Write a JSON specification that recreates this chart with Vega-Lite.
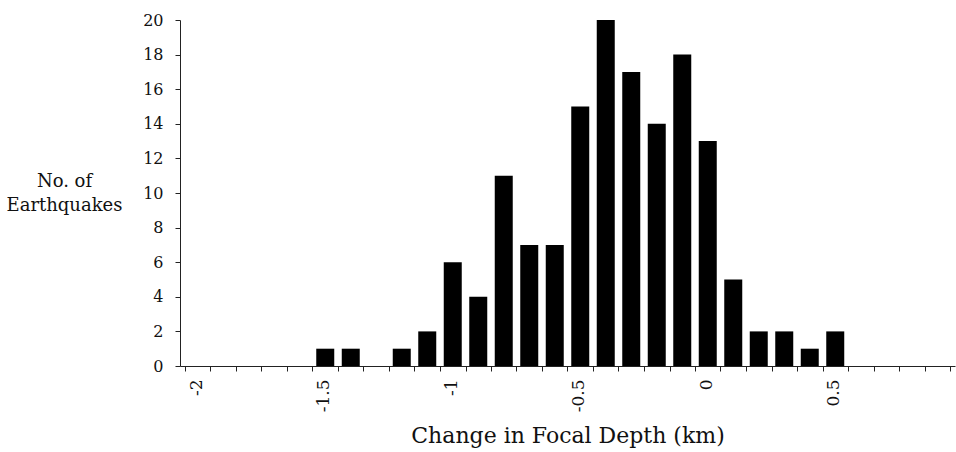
{
  "$schema": "https://vega.github.io/schema/vega-lite/v6.json",
  "autosize": "none",
  "width": 775,
  "height": 346,
  "padding": {"left": 180, "top": 20, "right": 1, "bottom": 86},
  "background": "white",
  "config": {
    "view": {"stroke": null},
    "font": "DejaVu Serif",
    "axis": {"grid": false, "domainColor": "#222", "tickColor": "#222", "labelColor": "#111", "titleColor": "#111", "labelFont": "DejaVu Serif", "titleFont": "DejaVu Serif", "titleFontWeight": "normal"}
  },
  "data": {
    "values": [
      {"depth": -2.0, "count": 0}, {"depth": -1.9, "count": 0}, {"depth": -1.8, "count": 0},
      {"depth": -1.7, "count": 0}, {"depth": -1.6, "count": 0}, {"depth": -1.5, "count": 1},
      {"depth": -1.4, "count": 1}, {"depth": -1.3, "count": 0}, {"depth": -1.2, "count": 1},
      {"depth": -1.1, "count": 2}, {"depth": -1.0, "count": 6}, {"depth": -0.9, "count": 4},
      {"depth": -0.8, "count": 11}, {"depth": -0.7, "count": 7}, {"depth": -0.6, "count": 7},
      {"depth": -0.5, "count": 15}, {"depth": -0.4, "count": 20}, {"depth": -0.3, "count": 17},
      {"depth": -0.2, "count": 14}, {"depth": -0.1, "count": 18}, {"depth": 0.0, "count": 13},
      {"depth": 0.1, "count": 5}, {"depth": 0.2, "count": 2}, {"depth": 0.3, "count": 2},
      {"depth": 0.4, "count": 1}, {"depth": 0.5, "count": 2}, {"depth": 0.6, "count": 0},
      {"depth": 0.7, "count": 0}, {"depth": 0.8, "count": 0}, {"depth": 0.9, "count": 0}
    ]
  },
  "mark": {"type": "bar", "color": "black", "width": 18},
  "encoding": {
    "x": {
      "field": "depth",
      "type": "quantitative",
      "scale": {"domain": [-2.05, 0.95], "nice": false, "zero": false},
      "axis": {
        "title": "Change in Focal Depth (km)",
        "titleFontSize": 22,
        "titlePadding": 14,
        "values": [-2.05, -1.95, -1.85, -1.75, -1.65, -1.55, -1.45, -1.35, -1.25, -1.15, -1.05, -0.95, -0.85, -0.75, -0.65, -0.55, -0.45, -0.35, -0.25, -0.15, -0.05, 0.05, 0.15, 0.25, 0.35, 0.45, 0.55, 0.65, 0.75, 0.85, 0.95],
        "labelExpr": "(abs((datum.value + 0.05) * 2 - round((datum.value + 0.05) * 2)) < 0.01 && datum.value < 0.9) ? toString(round((datum.value + 0.05) * 10) / 10) : ''",
        "labelAngle": -90,
        "labelOffset": 11,
        "labelFontSize": 17,
        "labelPadding": 8,
        "labelOverlap": false,
        "labelFlush": false,
        "labelBound": false,
        "tickSize": 5
      }
    },
    "y": {
      "field": "count",
      "type": "quantitative",
      "scale": {"domain": [0, 20], "nice": false},
      "axis": {
        "title": ["No. of", "Earthquakes"],
        "titleAngle": 0,
        "titleAlign": "center",
        "titleBaseline": "alphabetic",
        "titleX": -116,
        "titleY": 166,
        "titleLineHeight": 24,
        "titleFontSize": 18,
        "values": [0, 2, 4, 6, 8, 10, 12, 14, 16, 18, 20],
        "labelFontSize": 16,
        "labelPadding": 12,
        "tickSize": 5
      }
    }
  }
}
